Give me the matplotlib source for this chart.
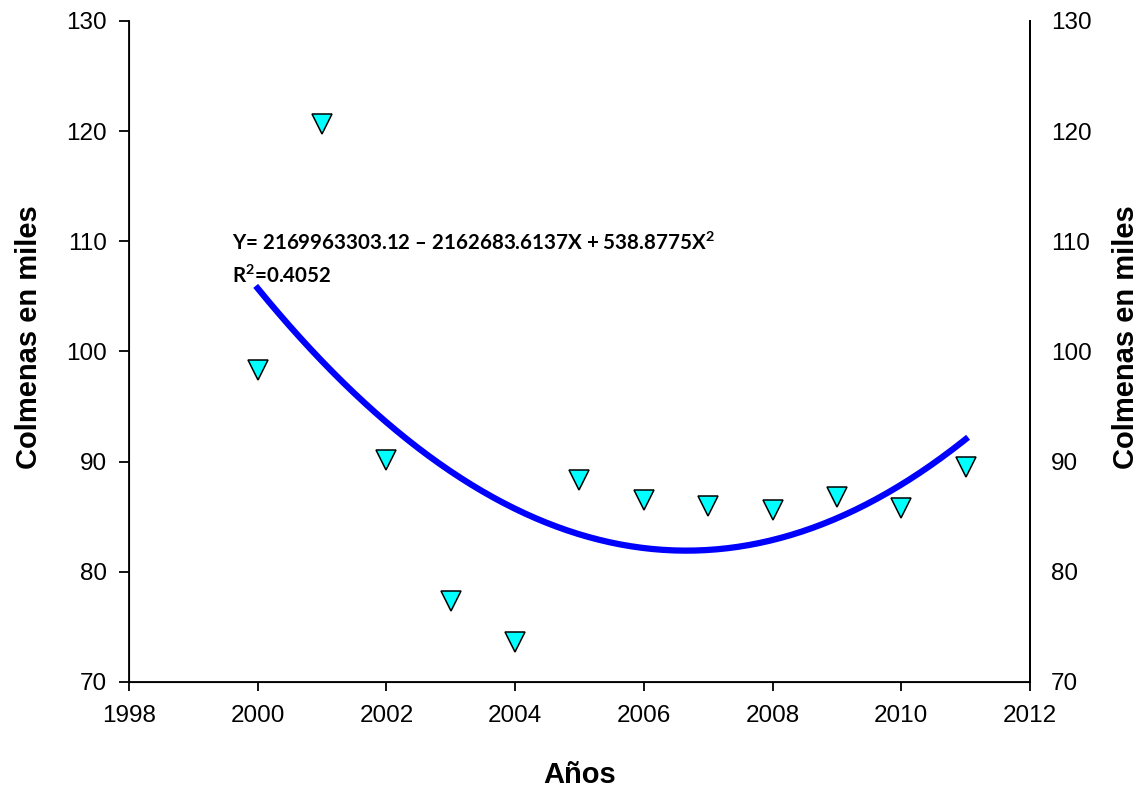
import matplotlib.pyplot as plt
import numpy as np

# datos
anios = [2000, 2001, 2002, 2003, 2004, 2005, 2006, 2007, 2008, 2009, 2010, 2011]
colmenas = [98.3, 120.6, 90.1, 77.3, 73.6, 88.3, 86.5, 86.0, 85.6, 86.8, 85.8, 89.5]

ecuacion = "Y= 2169963303.12 \u2013 2162683.6137X + 538.8775X" + r"$^{\mathbf{2}}$"
r2_texto = "R" + r"$^{\mathbf{2}}$" + "=0.4052"

x_ticks = [1998, 2000, 2002, 2004, 2006, 2008, 2010, 2012]
y_ticks = [70, 80, 90, 100, 110, 120, 130]

plt.rcParams['font.family'] = ['Liberation Sans', 'DejaVu Sans']
plt.rcParams['mathtext.fontset'] = 'custom'
plt.rcParams['mathtext.rm'] = 'Lato'
plt.rcParams['mathtext.bf'] = 'Lato:bold'

fig = plt.figure(figsize=(11.41, 7.91), dpi=100)
ax = fig.add_axes([0.113, 0.138, 0.7897, 0.8355])

# linea de tendencia polinomica (grado 2), como en Excel
coef = np.polyfit(anios, colmenas, 2)
xs = np.linspace(anios[0], anios[-1], 200)
ax.plot(xs, np.polyval(coef, xs), color='#0000FF', linewidth=4.5, zorder=2)

ax.plot(anios, colmenas, linestyle='none', marker='v', markersize=14,
        markerfacecolor='#00FFFF', markeredgecolor='black', markeredgewidth=1.1, zorder=3)

ax.set_xlim(1998, 2012)
ax.set_ylim(70, 130)
ax.set_xticks(x_ticks)
ax.set_yticks(y_ticks)
ax.spines['top'].set_visible(False)
for s in ['left', 'bottom', 'right']:
    ax.spines[s].set_linewidth(1.3)
ax.tick_params(axis='x', direction='out', length=6.5, width=1.3, pad=10, labelsize=17.5)
ax.tick_params(axis='y', direction='out', length=7, width=1.3, pad=9, labelsize=17.5)

ax.set_xlabel("A\u00f1os", fontsize=21, fontweight='bold', labelpad=25)
ax.set_ylabel("Colmenas en miles", fontsize=21, fontweight='bold')
ax.yaxis.set_label_coords(-0.095, 0.522)

# eje derecho (mismos valores)
ax2 = ax.twinx()
ax2.set_ylim(70, 130)
ax2.set_yticks(y_ticks)
ax2.spines['top'].set_visible(False)
ax2.spines['right'].set_linewidth(1.3)
ax2.tick_params(axis='y', length=0, pad=15, labelsize=17.5)
ax2.set_ylabel("Colmenas en miles", fontsize=21, fontweight='bold')
ax2.yaxis.set_label_coords(1.0915, 0.522)

ax.text(1999.6, 110.9, ecuacion, fontsize=14.8, fontweight='bold', family=['Lato', 'DejaVu Sans'],
        va='top', ha='left')
ax.text(1999.6, 107.9, r2_texto, fontsize=14.8, fontweight='bold', family=['Lato', 'DejaVu Sans'],
        va='top', ha='left')

fig.savefig("out.png", dpi=100)
